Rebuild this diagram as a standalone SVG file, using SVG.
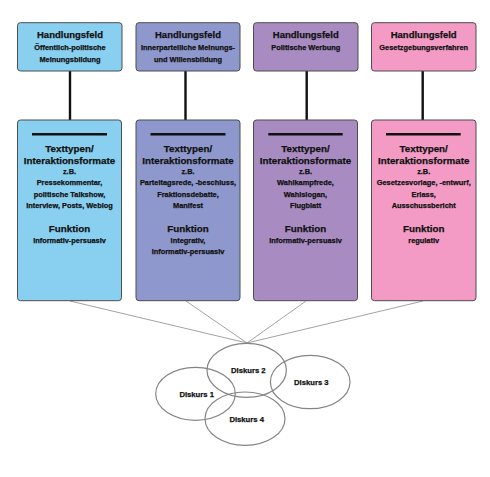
<svg xmlns="http://www.w3.org/2000/svg" width="490" height="477" viewBox="0 0 490 477">
<style>
text{font-family:"Liberation Sans",Arial,sans-serif;font-weight:bold;fill:#111;stroke:#111;stroke-width:0.25;text-anchor:middle}
.h{font-size:9.5px}
.s{font-size:7.4px}
.t{font-size:9.8px}
.box{stroke:#4d4d4d;stroke-width:1}
.bar{stroke:#111;stroke-width:2.5}
.vc{stroke:#111;stroke-width:2.4}
.tc{stroke:#8a8a8a;stroke-width:0.8;fill:none}
.ell{fill:none;stroke:#858585;stroke-width:1.2}
.d{font-size:7.7px}
</style>
<rect width="490" height="477" fill="#fff"/>
<g id="connectors">
<line class="vc" x1="70" y1="71" x2="70" y2="120"/>
<line class="vc" x1="185.5" y1="71" x2="185.5" y2="120"/>
<line class="vc" x1="306.7" y1="71" x2="306.7" y2="120"/>
<line class="vc" x1="422.7" y1="71" x2="422.7" y2="120"/>
<line class="tc" x1="70" y1="301" x2="247" y2="343"/>
<line class="tc" x1="186" y1="301" x2="247" y2="343"/>
<line class="tc" x1="306" y1="301" x2="247" y2="343"/>
<line class="tc" x1="423" y1="301" x2="247" y2="343"/>
</g>
<g id="hf1">
<rect class="box" x="17.5" y="22.7" width="104.5" height="48.3" rx="3" fill="#89d0f0"/>
<text class="h" x="70" y="38">Handlungsfeld</text>
<text class="s" x="70" y="50">Öffentlich-politische</text>
<text class="s" x="70" y="62">Meinungsbildung</text>
</g>
<g id="hf2">
<rect class="box" x="136" y="22.7" width="104" height="48.3" rx="3" fill="#8e98cc"/>
<text class="h" x="188" y="38">Handlungsfeld</text>
<text class="s" x="188" y="50">Innerparteiliche Meinungs-</text>
<text class="s" x="188" y="62">und Willensbildung</text>
</g>
<g id="hf3">
<rect class="box" x="253.5" y="22.7" width="104.5" height="48.3" rx="3" fill="#a88bc0"/>
<text class="h" x="305.8" y="38">Handlungsfeld</text>
<text class="s" x="305.8" y="50">Politische Werbung</text>
</g>
<g id="hf4">
<rect class="box" x="371.5" y="22.7" width="104.5" height="48.3" rx="3" fill="#f39bc4"/>
<text class="h" x="423.7" y="38">Handlungsfeld</text>
<text class="s" x="423.7" y="50">Gesetzgebungsverfahren</text>
</g>
<g id="tt1">
<rect class="box" x="17.5" y="120" width="104" height="180.7" rx="3" fill="#89d0f0"/>
<line class="bar" x1="32" y1="134.3" x2="107" y2="134.3"/>
<text class="t" x="69.5" y="151.5">Texttypen/</text>
<text class="t" x="69.5" y="163.5">Interaktionsformate</text>
<text class="s" x="69.5" y="174.3">z.B.</text>
<text class="s" x="69.5" y="185.4">Pressekommentar,</text>
<text class="s" x="69.5" y="196.7">politische Talkshow,</text>
<text class="s" x="69.5" y="208.4">Interview, Posts, Weblog</text>
<text class="t" x="69.5" y="231.7">Funktion</text>
<text class="s" x="69.5" y="242.7">informativ-persuasiv</text>
</g>
<g id="tt2">
<rect class="box" x="136" y="120" width="104" height="180.7" rx="3" fill="#8e98cc"/>
<line class="bar" x1="150.5" y1="134.3" x2="225.5" y2="134.3"/>
<text class="t" x="188" y="151.5">Texttypen/</text>
<text class="t" x="188" y="163.5">Interaktionsformate</text>
<text class="s" x="188" y="174.3">z.B.</text>
<text class="s" x="188" y="185.4">Parteitagsrede, -beschluss,</text>
<text class="s" x="188" y="196.7">Fraktionsdebatte,</text>
<text class="s" x="188" y="208.4">Manifest</text>
<text class="t" x="188" y="231.7">Funktion</text>
<text class="s" x="188" y="242.7">integrativ,</text>
<text class="s" x="188" y="254.4">informativ-persuasiv</text>
</g>
<g id="tt3">
<rect class="box" x="253.5" y="120" width="104" height="180.7" rx="3" fill="#a88bc0"/>
<line class="bar" x1="268.3" y1="134.3" x2="342.7" y2="134.3"/>
<text class="t" x="305.5" y="151.5">Texttypen/</text>
<text class="t" x="305.5" y="163.5">Interaktionsformate</text>
<text class="s" x="305.5" y="174.3">z.B.</text>
<text class="s" x="305.5" y="185.4">Wahlkampfrede,</text>
<text class="s" x="305.5" y="196.7">Wahlslogan,</text>
<text class="s" x="305.5" y="208.4">Flugblatt</text>
<text class="t" x="305.5" y="231.7">Funktion</text>
<text class="s" x="305.5" y="242.7">informativ-persuasiv</text>
</g>
<g id="tt4">
<rect class="box" x="371.5" y="120" width="104.5" height="180.7" rx="3" fill="#f39bc4"/>
<line class="bar" x1="386" y1="134.3" x2="460.7" y2="134.3"/>
<text class="t" x="423.7" y="151.5">Texttypen/</text>
<text class="t" x="423.7" y="163.5">Interaktionsformate</text>
<text class="s" x="423.7" y="174.3">z.B.</text>
<text class="s" x="423.7" y="185.4">Gesetzesvorlage, -entwurf,</text>
<text class="s" x="423.7" y="196.7">Erlass,</text>
<text class="s" x="423.7" y="208.4">Ausschussbericht</text>
<text class="t" x="423.7" y="231.7">Funktion</text>
<text class="s" x="423.7" y="242.7">regulativ</text>
</g>
<g id="diskurs2">
<ellipse class="ell" cx="246.7" cy="370.3" rx="39.7" ry="27"/>
<text class="d" x="248.3" y="373.4">Diskurs 2</text>
</g>
<g id="diskurs1">
<ellipse class="ell" cx="195.5" cy="393.8" rx="39.8" ry="26.5"/>
<text class="d" x="196.7" y="397">Diskurs 1</text>
</g>
<g id="diskurs3">
<ellipse class="ell" cx="310.2" cy="382" rx="39.8" ry="26.7"/>
<text class="d" x="311.3" y="385.4">Diskurs 3</text>
</g>
<g id="diskurs4">
<ellipse class="ell" cx="245" cy="418.7" rx="40" ry="26.7"/>
<text class="d" x="246.7" y="422">Diskurs 4</text>
</g>
</svg>
